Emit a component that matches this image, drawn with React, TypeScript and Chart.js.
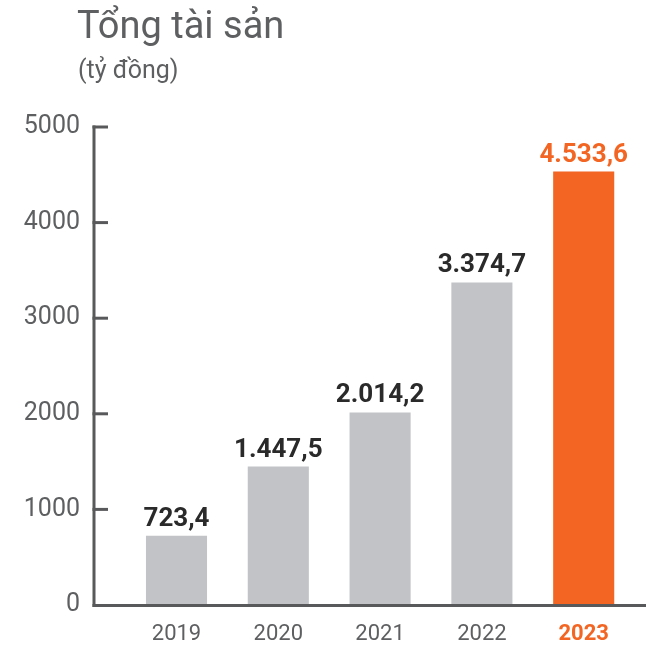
import React, { useEffect, useRef } from "react";
import { Chart, registerables } from "chart.js";

Chart.register(...registerables);

const categories = ["2019", "2020", "2021", "2022", "2023"];
const values = [723.4, 1447.5, 2014.2, 3374.7, 4533.6];
const highlightIndex = 4;
const titleText = "Tổng tài sản";
const subtitleText = "(tỷ đồng)";

const GRAY_BAR = "#C1C3C7";
const ORANGE = "#F26522";
const AXIS_COLOR = "#58595B";
const TEXT_GRAY = "#5E5F61";
const LABEL_DARK = "#2A2A2A";
const AXIS_X = 94;

function fmtVN(v: number): string {
  const [i, d] = v.toFixed(1).split(".");
  return i.replace(/\B(?=(\d{3})+(?!\d))/g, ".") + "," + d;
}

const decorPlugin = {
  id: "decor",
  afterDatasetsDraw(chart: any) {
    const ctx = chart.ctx;
    const y = chart.scales.y;
    ctx.save();
    const meta = chart.getDatasetMeta(0);
    meta.data.forEach((bar: any, i: number) => {
      ctx.font = "bold 26px Roboto";
      ctx.fillStyle = i === highlightIndex ? ORANGE : LABEL_DARK;
      ctx.textAlign = "center";
      ctx.textBaseline = "alphabetic";
      ctx.fillText(fmtVN(values[i]), bar.x, bar.y - 10);
    });
    ctx.strokeStyle = AXIS_COLOR;
    ctx.lineWidth = 3;
    const yTop = y.getPixelForValue(y.max);
    const yBottom = y.getPixelForValue(0);
    ctx.beginPath();
    ctx.moveTo(AXIS_X, yTop - 1.5);
    ctx.lineTo(AXIS_X, yBottom + 2);
    ctx.stroke();
    y.ticks.forEach((t: any) => {
      if (t.value === 0) return;
      const py = y.getPixelForValue(t.value);
      ctx.beginPath();
      ctx.moveTo(AXIS_X - 1.5, py);
      ctx.lineTo(AXIS_X + 14, py);
      ctx.stroke();
    });
    ctx.beginPath();
    ctx.moveTo(AXIS_X - 1.5, yBottom + 0.5);
    ctx.lineTo(chart.width, yBottom + 0.5);
    ctx.stroke();
    ctx.restore();
  },
  afterDraw(chart: any) {
    const ctx = chart.ctx;
    ctx.save();
    ctx.fillStyle = TEXT_GRAY;
    ctx.textAlign = "left";
    ctx.textBaseline = "alphabetic";
    ctx.font = "38px Roboto";
    ctx.fillText(titleText, 77, 38);
    ctx.font = "25px Roboto";
    ctx.fillText(subtitleText, 78, 78);
    ctx.restore();
  },
};

export default function App() {
  const canvasRef = useRef<HTMLCanvasElement | null>(null);

  useEffect(() => {
    if (!canvasRef.current) return;
    const chart = new Chart(canvasRef.current, {
      type: "bar",
      data: {
        labels: categories,
        datasets: [
          {
            data: values,
            backgroundColor: values.map((_, i) => (i === highlightIndex ? ORANGE : GRAY_BAR)),
            borderWidth: 0,
            barPercentage: 0.6,
            categoryPercentage: 1,
          },
        ],
      },
      options: {
        animation: false,
        responsive: false,
        maintainAspectRatio: false,
        devicePixelRatio: 1,
        layout: { padding: { left: 0, right: 11.4, top: 127, bottom: 0 } },
        plugins: {
          legend: { display: false },
          tooltip: { enabled: false },
          title: { display: false },
        },
        scales: {
          x: {
            grid: { display: false, drawTicks: false },
            border: { display: false },
            afterFit(scale: any) {
              scale.height = 45;
              scale.paddingLeft = 0;
              scale.paddingRight = 0;
            },
            ticks: {
              padding: 16,
              color: (c: any) => (c.index === highlightIndex ? ORANGE : TEXT_GRAY),
              font: (c: any) =>
                c.index === highlightIndex
                  ? { family: "Roboto", size: 22, weight: "bold" }
                  : { family: "Roboto", size: 22, weight: "normal" },
            },
          },
          y: {
            min: 0,
            max: 5000,
            grid: { display: false, drawTicks: false },
            border: { display: false },
            afterFit(scale: any) {
              scale.width = 125.6;
              scale.paddingTop = 0;
              scale.paddingBottom = 0;
            },
            ticks: {
              stepSize: 1000,
              padding: 45.6,
              color: TEXT_GRAY,
              font: { family: "Roboto", size: 25 },
              callback: (v: any) => String(v),
            },
          },
        },
      },
      plugins: [decorPlugin],
    });
    return () => chart.destroy();
  }, []);

  return (
    <div style={{ position: "fixed", left: 0, top: 0, width: 646, height: 650, background: "#fff" }}>
      <canvas ref={canvasRef} width={646} height={650} style={{ display: "block", width: 646, height: 650 }} />
    </div>
  );
}
